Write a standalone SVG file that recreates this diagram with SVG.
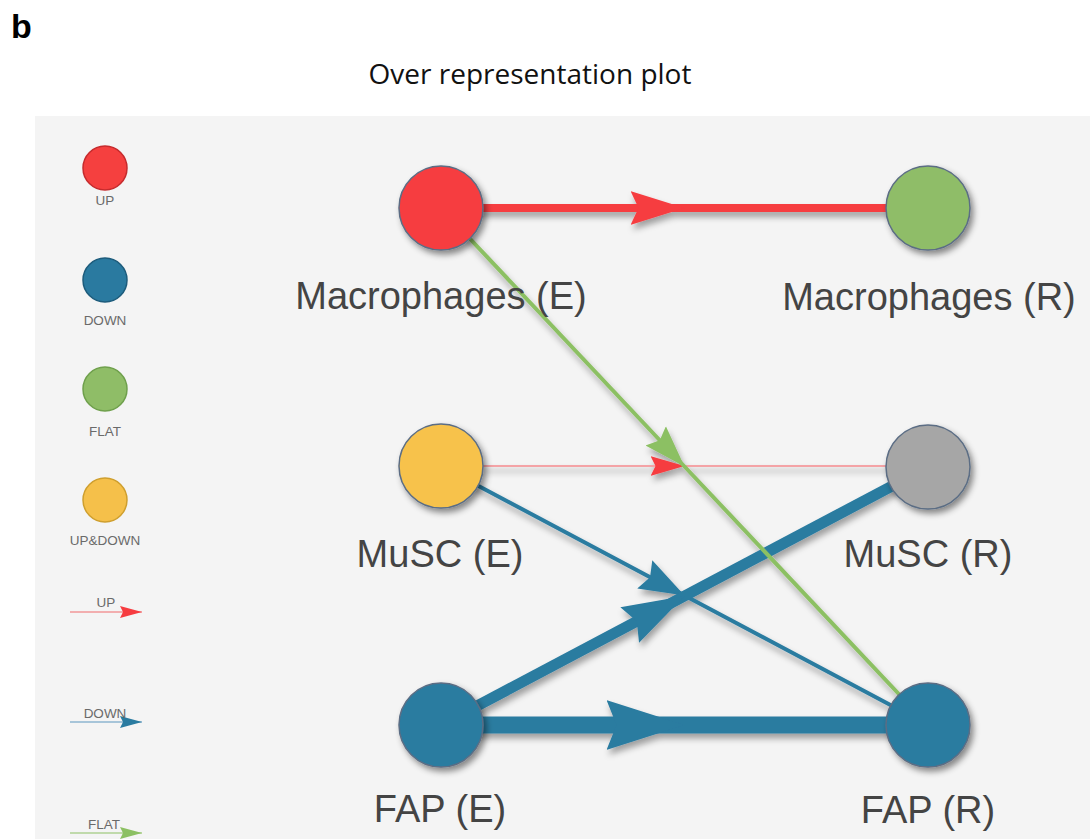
<svg xmlns="http://www.w3.org/2000/svg" width="1090" height="839" viewBox="0 0 1090 839">
<style>
.lbl{font-family:"Liberation Sans",Arial,sans-serif;font-size:38px;fill:#444;text-anchor:middle}
.leg{font-family:"Liberation Sans",Arial,sans-serif;font-size:13.5px;fill:#6a6a6a;text-anchor:middle}
.node{stroke:#5b6d84;stroke-width:1.5;filter:url(#sh)}
.edge{fill:none}
</style>
<defs>
<filter id="sh" x="-30%" y="-30%" width="160%" height="160%"><feDropShadow dx="3" dy="4" stdDeviation="3" flood-color="#000" flood-opacity="0.45"/></filter>
<filter id="esh" filterUnits="userSpaceOnUse" x="0" y="0" width="1090" height="839"><feDropShadow dx="2" dy="5" stdDeviation="3" flood-color="#000" flood-opacity="0.35"/></filter>
<marker id="mRed" markerUnits="userSpaceOnUse" markerWidth="60" markerHeight="40" viewBox="0 -20 60 40" refX="54" refY="0" orient="auto"><path d="M0,-17 L54,0 L0,17 L8,0 z" fill="#f63c40"/></marker>
<marker id="mGreen" markerUnits="userSpaceOnUse" markerWidth="46" markerHeight="34" viewBox="0 -17 46 34" refX="42" refY="0" orient="auto"><path d="M0,-14 L42,0 L0,14 L6,0 z" fill="#8cc063"/></marker>
<marker id="mPink" markerUnits="userSpaceOnUse" markerWidth="40" markerHeight="26" viewBox="0 -13 40 26" refX="34" refY="0" orient="auto"><path d="M0,-10 L34,0 L0,10 L5,0 z" fill="#f63c40"/></marker>
<marker id="mBlue1" markerUnits="userSpaceOnUse" markerWidth="50" markerHeight="36" viewBox="0 -18 50 36" refX="45" refY="0" orient="auto"><path d="M0,-16 L45,0 L0,16 L6,0 z" fill="#2a7ba0"/></marker>
<marker id="mBlue2" markerUnits="userSpaceOnUse" markerWidth="66" markerHeight="44" viewBox="0 -22 66 44" refX="62" refY="0" orient="auto"><path d="M0,-20 L62,0 L0,20 L8,0 z" fill="#2a7ba0"/></marker>
<marker id="mBlue3" markerUnits="userSpaceOnUse" markerWidth="84" markerHeight="56" viewBox="0 -28 84 56" refX="78" refY="0" orient="auto"><path d="M0,-25 L78,0 L0,25 L10,0 z" fill="#2a7ba0"/></marker>
<marker id="lRed" markerUnits="userSpaceOnUse" markerWidth="24" markerHeight="14" viewBox="0 -7 24 14" refX="22" refY="0" orient="auto"><path d="M0,-6 L22,0 L0,6 L3,0 z" fill="#f63c40"/></marker>
<marker id="lBlue" markerUnits="userSpaceOnUse" markerWidth="24" markerHeight="14" viewBox="0 -7 24 14" refX="22" refY="0" orient="auto"><path d="M0,-6 L22,0 L0,6 L3,0 z" fill="#2a7ba0"/></marker>
<marker id="lGreen" markerUnits="userSpaceOnUse" markerWidth="24" markerHeight="14" viewBox="0 -7 24 14" refX="22" refY="0" orient="auto"><path d="M0,-6 L22,0 L0,6 L3,0 z" fill="#8cc063"/></marker>
</defs>
<rect width="1090" height="839" fill="#fff"/>
<text x="11" y="38" font-family="Liberation Sans,Arial,sans-serif" font-weight="bold" font-size="34" fill="#000">b</text>
<text x="530" y="84" font-family="Open Sans,sans-serif" font-size="28" fill="#111" text-anchor="middle">Over representation plot</text>
<rect x="35" y="116" width="1055" height="723" fill="#f4f4f4"/>

<g id="legend">
<circle cx="105" cy="168" r="22" fill="#f5403f" stroke="#c62b2d" stroke-width="1.5"/>
<text class="leg" x="105" y="205">UP</text>
<circle cx="105" cy="280" r="22" fill="#2a7aa0" stroke="#1d5c7c" stroke-width="1.5"/>
<text class="leg" x="105" y="325">DOWN</text>
<circle cx="105" cy="389" r="22" fill="#8fbd67" stroke="#6fa04c" stroke-width="1.5"/>
<text class="leg" x="105" y="436">FLAT</text>
<circle cx="105" cy="500" r="22" fill="#f5c04a" stroke="#cf9f2e" stroke-width="1.5"/>
<text class="leg" x="105" y="545">UP&amp;DOWN</text>
<line x1="70" y1="612" x2="142" y2="612" stroke="#f0686a" stroke-width="1.2" marker-end="url(#lRed)"/>
<text class="leg" x="106" y="607">UP</text>
<line x1="70" y1="722" x2="142" y2="722" stroke="#5a96bd" stroke-width="1.2" marker-end="url(#lBlue)"/>
<text class="leg" x="105" y="718">DOWN</text>
<line x1="70" y1="833" x2="142" y2="833" stroke="#8cc063" stroke-width="1.2" marker-end="url(#lGreen)"/>
<text class="leg" x="104" y="829">FLAT</text>
</g>

<g id="connectors" filter="url(#esh)">
<polyline class="edge" points="441,208 684.5,208 928,208" stroke="#f63c40" stroke-width="8" marker-mid="url(#mRed)"/>
<polyline class="edge" points="441,466 684.5,466 928,466" stroke="#f4a3a6" stroke-width="2" marker-mid="url(#mPink)"/>
<polyline class="edge" points="441,466 684.5,595.5 928,725" stroke="#2a7ba0" stroke-width="4" marker-mid="url(#mBlue1)"/>
<polyline class="edge" points="441,725 684.5,596 928,467" stroke="#2a7ba0" stroke-width="11" marker-mid="url(#mBlue2)"/>
<polyline class="edge" points="441,725 684.5,725 928,725" stroke="#2a7ba0" stroke-width="17" marker-mid="url(#mBlue3)"/>
<polyline class="edge" points="441,208 684.5,466.5 928,725" stroke="#8cc063" stroke-width="4" marker-mid="url(#mGreen)"/>
</g>

<g id="node-mac-e"><circle class="node" cx="441" cy="208" r="42" fill="#f63c40"/><text class="lbl" x="441" y="309">Macrophages (E)</text></g>
<g id="node-mac-r"><circle class="node" cx="928" cy="208" r="42" fill="#8fbd67"/><text class="lbl" x="929" y="310">Macrophages (R)</text></g>
<g id="node-musc-e"><circle class="node" cx="441" cy="466" r="42" fill="#f7c24b"/><text class="lbl" x="440" y="567">MuSC (E)</text></g>
<g id="node-musc-r"><circle class="node" cx="928" cy="467" r="42" fill="#a6a6a6"/><text class="lbl" x="928" y="567">MuSC (R)</text></g>
<g id="node-fap-e"><circle class="node" cx="441" cy="725" r="42" fill="#2a7ba0" stroke="#2a7ba0"/><text class="lbl" x="440" y="822">FAP (E)</text></g>
<g id="node-fap-r"><circle class="node" cx="928" cy="725" r="42" fill="#2a7ba0" stroke="#2a7ba0"/><text class="lbl" x="928" y="823">FAP (R)</text></g>
</svg>
